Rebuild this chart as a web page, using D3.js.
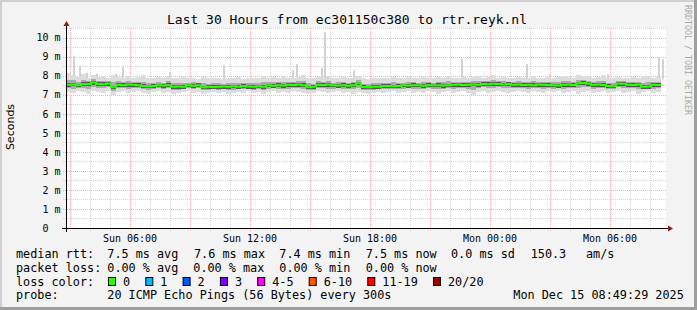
<!DOCTYPE html>
<html>
<head>
<meta charset="utf-8">
<script src="https://cdn.jsdelivr.net/npm/d3@7"></script>
<style>
  body { margin: 0; background: #f3f3f3; }
  svg { display: block; }
  text { font-family: 'DejaVu Sans Mono', monospace; fill: #000; }
</style>
</head>
<body>
<svg id="graph" width="697" height="310"></svg>
<script>

var title = 'Last 30 Hours from ec301150c380 to rtr.reyk.nl';
var endTime = new Date(Date.UTC(2025, 11, 15, 8, 49, 29)),
    spanHours = 30,
    stepMinutes = 15;

// median rtt per 15 min column (ms)
var medianMs = [
  7.52, 7.54, 7.49, 7.56, 7.56, 7.64, 7.56, 7.55, 7.58, 7.39,
  7.52, 7.50, 7.53, 7.52, 7.50, 7.45, 7.44, 7.46, 7.49, 7.48,
  7.50, 7.42, 7.43, 7.41, 7.49, 7.47, 7.50, 7.39, 7.41, 7.40,
  7.42, 7.43, 7.41, 7.44, 7.42, 7.45, 7.43, 7.42, 7.44, 7.41,
  7.49, 7.47, 7.50, 7.48, 7.52, 7.51, 7.53, 7.50, 7.39, 7.41,
  7.52, 7.51, 7.53, 7.49, 7.48, 7.50, 7.47, 7.50, 7.60, 7.40,
  7.39, 7.41, 7.42, 7.45, 7.46, 7.44, 7.46, 7.49, 7.48, 7.50,
  7.49, 7.47, 7.50, 7.49, 7.50, 7.48, 7.49, 7.52, 7.53, 7.51,
  7.52, 7.54, 7.52, 7.56, 7.55, 7.57, 7.56, 7.54, 7.56, 7.52,
  7.53, 7.51, 7.52, 7.50, 7.53, 7.52, 7.51, 7.49, 7.48, 7.52,
  7.53, 7.51, 7.60, 7.61, 7.59, 7.52, 7.53, 7.51, 7.45, 7.44,
  7.58, 7.57, 7.52, 7.51, 7.53, 7.42, 7.43, 7.52, 7.51
];

// fastest / slowest ping of each column (ms)
var smokeLoMs = [
  7.15, 7.10, 7.20, 7.15, 7.05, 7.20, 7.15, 7.10, 7.20, 7.00,
  7.15, 7.20, 7.10, 7.15, 7.20, 7.10, 7.05, 7.15, 7.20, 7.10,
  7.15, 7.05, 7.10, 7.15, 7.20, 7.10, 7.15, 7.05, 7.10, 7.15,
  7.10, 7.15, 7.05, 7.10, 7.15, 7.10, 7.20, 7.10, 7.15, 7.05,
  7.15, 7.20, 7.10, 7.15, 7.10, 7.20, 7.15, 7.10, 7.05, 7.10,
  7.20, 7.15, 7.10, 7.15, 7.20, 7.10, 7.15, 7.05, 7.15, 7.10,
  7.05, 7.10, 7.15, 7.10, 7.15, 7.20, 7.10, 7.15, 7.20, 7.10,
  7.15, 7.10, 7.20, 7.15, 7.05, 7.15, 7.20, 7.10, 7.15, 7.20,
  7.10, 7.00, 7.15, 7.20, 7.10, 7.15, 7.20, 7.15, 7.10, 7.15,
  7.20, 7.15, 7.10, 7.20, 7.15, 7.10, 7.20, 7.15, 7.20, 7.10,
  7.15, 7.20, 7.05, 7.15, 7.20, 7.10, 7.15, 7.20, 7.10, 7.15,
  7.20, 7.10, 7.15, 7.20, 7.05, 7.15, 7.20, 7.10, 7.15
];

var smokeHiMs = [
  8.15, 8.05, 7.95, 8.10, 7.90, 8.05, 7.95, 8.00, 7.90, 8.05,
  7.95, 7.85, 8.00, 7.90, 7.95, 8.05, 7.85, 7.90, 7.95, 7.85,
  8.00, 7.90, 7.85, 7.95, 7.85, 7.90, 7.80, 7.95, 7.85, 7.90,
  7.85, 7.80, 7.90, 7.85, 7.95, 7.80, 7.85, 7.90, 7.85, 8.00,
  7.90, 7.95, 7.85, 8.00, 7.90, 7.85, 7.95, 8.05, 7.90, 7.85,
  7.95, 7.90, 8.00, 7.85, 7.90, 7.95, 7.85, 7.90, 8.00, 7.85,
  7.80, 7.90, 7.85, 7.90, 7.85, 7.95, 7.90, 7.85, 7.95, 7.90,
  7.85, 7.95, 7.90, 7.85, 7.95, 7.90, 8.00, 7.90, 7.85, 7.95,
  7.90, 7.95, 8.00, 7.90, 7.95, 8.05, 7.90, 7.95, 7.85, 7.90,
  7.95, 7.85, 7.90, 8.00, 7.90, 7.85, 7.95, 7.90, 7.95, 8.00,
  7.95, 7.90, 8.05, 8.00, 7.95, 7.90, 7.95, 8.05, 7.90, 7.85,
  7.95, 7.90, 7.85, 7.95, 7.90, 7.95, 8.00, 7.90, 7.95
];

// single slow pings sticking out of the smoke
var spikeHours = [0.35, 0.65, 1.0, 1.5, 2.45, 2.8, 5.15, 7.85, 11.3, 11.5, 12.75, 12.9, 14.35, 19.75, 23.0, 24.15, 27.05, 29.6, 29.8];
var spikeMs    = [9.05, 8.5, 8.15, 8.1, 8.1, 8.45, 8.2, 8.55, 8.3, 8.6, 8.4, 10.28, 8.28, 8.9, 8.6, 8.1, 8.07, 8.98, 8.86];

var yTicks = [0, 1, 2, 3, 4, 5, 6, 7, 8, 9, 10];

var rttStats = ['7.5 ms avg', '7.6 ms max', '7.4 ms min', '7.5 ms now', '0.0 ms sd', '150.3', 'am/s'];
var lossStats = ['0.00 % avg', '0.00 % max', '0.00 % min', '0.00 % now'];
var lossLabels = ['0', '1', '2', '3', '4-5', '6-10', '11-19', '20/20'];
var lossColors = ['#26ff00', '#00b8ff', '#0059ff', '#7e00ff', '#ff00ff', '#ff5500', '#ff0000', '#a00000'];
var probeText = '20 ICMP Echo Pings (56 Bytes) every 300s';
var stampText = 'Mon Dec 15 08:49:29 2025';

var svg = d3.select('#graph'),
    W = 697, H = 310,
    X0 = 66, X1 = 666, Y0 = 228, Y1 = 28,
    startTime = new Date(endTime.getTime() - spanHours * 3600000),
    x = d3.scaleUtc().domain([startTime, endTime]).range([X0, X1]),
    y = d3.scaleLinear().domain([0, 10.5]).range([Y0, Y1]),
    fmt = d3.utcFormat('%a %H:%M'),
    px = function(v) { return Math.round(v) + 0.5; }
    ;

// canvas + 3d frame
svg.append('rect').attr('width', W).attr('height', H).attr('fill', '#f3f3f3');
svg.append('rect').attr('width', W).attr('height', 2).attr('fill', '#cfcfcf');
svg.append('rect').attr('width', 2).attr('height', H).attr('fill', '#cfcfcf');
svg.append('rect').attr('y', H - 3).attr('width', W).attr('height', 3).attr('fill', '#9e9e9e');
svg.append('rect').attr('x', W - 3).attr('width', 3).attr('height', H).attr('fill', '#9e9e9e');

svg.append('rect')
    .attr('x', X0).attr('y', Y1)
    .attr('width', X1 - X0).attr('height', Y0 - Y1)
    .attr('fill', '#fff')
  ;

// grid
var grid = svg.append('g').attr('stroke-dasharray', '1,1').attr('stroke-width', 1);
var hoursAll = d3.utcHour.every(1).range(startTime, endTime);

hoursAll.forEach(function(t) {
  var major = t.getUTCHours() % 3 === 0;
  grid.append('line')
      .attr('x1', px(x(t))).attr('x2', px(x(t)))
      .attr('y1', Y1).attr('y2', Y0 + 3)
      .attr('stroke', major ? '#f6b4b4' : '#d4d4d4')
    ;
});

d3.range(0.5, 10.6, 0.5).forEach(function(v) {
  var major = v % 1 === 0;
  grid.append('line')
      .attr('x1', X0 - 3).attr('x2', X1)
      .attr('y1', px(y(v))).attr('y2', px(y(v)))
      .attr('stroke', major ? '#f6b4b4' : '#d4d4d4')
    ;
});

// smoke
var colMs = stepMinutes * 60000;
var cols = medianMs.map(function(m, i) {
  var t0 = new Date(startTime.getTime() + i * colMs);
  return { t0: t0, t1: new Date(t0.getTime() + colMs), med: m, lo: smokeLoMs[i], hi: smokeHiMs[i] };
});

var smoke = svg.append('g');

spikeHours.forEach(function(h, i) {
  var t = new Date(startTime.getTime() + h * 3600000);
  smoke.append('rect')
      .attr('x', Math.round(x(t)))
      .attr('width', 2)
      .attr('y', y(spikeMs[i]))
      .attr('height', y(7.8) - y(spikeMs[i]))
      .attr('fill', '#d2d2d2')
    ;
});

function band(cls, lo, hi, color) {
  smoke.selectAll('rect.' + cls)
      .data(cols)
    .enter().append('rect')
      .attr('class', cls)
      .attr('x', function(d) { return x(d.t0); })
      .attr('width', function(d) { return x(d.t1) - x(d.t0); })
      .attr('y', function(d) { return y(hi(d)); })
      .attr('height', function(d) { return y(lo(d)) - y(hi(d)); })
      .attr('fill', color)
      .attr('shape-rendering', 'crispEdges')
    ;
}

band('outer', function(d) { return d.lo; }, function(d) { return d.hi; }, '#dcdcdc');
band('mid', function(d) { return d.lo + (d.med - d.lo) * 0.5; }, function(d) { return d.med + (d.hi - d.med) * 0.4; }, '#a9a9a9');
band('inner', function(d) { return d.med - 0.11; }, function(d) { return d.med + 0.09; }, '#555');

var medLine = d3.line()
    .x(function(d) { return x(d.t); })
    .y(function(d) { return y(d.v); })
    .curve(d3.curveStepAfter)
  ;

var medPts = cols.map(function(d) { return { t: d.t0, v: d.med }; });
medPts.push({ t: cols[cols.length - 1].t1, v: cols[cols.length - 1].med });

svg.append('path')
    .attr('d', medLine(medPts))
    .attr('fill', 'none')
    .attr('stroke', lossColors[0])
    .attr('stroke-width', 2)
  ;

// axes
var axis = svg.append('g').attr('stroke', '#000').attr('stroke-width', 1);
axis.append('line').attr('x1', X0 - 4).attr('x2', X1 + 3).attr('y1', Y0 + 0.5).attr('y2', Y0 + 0.5);
axis.append('line').attr('x1', X0 + 0.5).attr('x2', X0 + 0.5).attr('y1', Y0 + 4).attr('y2', Y1 - 3);

svg.append('path')
    .attr('d', 'M' + (X1 + 2) + ',' + (Y0 - 2.5) + 'L' + (X1 + 7) + ',' + (Y0 + 0.5) + 'L' + (X1 + 2) + ',' + (Y0 + 3.5) + 'Z')
    .attr('fill', '#8b1a1a')
  ;
svg.append('path')
    .attr('d', 'M' + (X0 - 2.5) + ',' + (Y1 - 2) + 'L' + (X0 + 0.5) + ',' + (Y1 - 7) + 'L' + (X0 + 3.5) + ',' + (Y1 - 2) + 'Z')
    .attr('fill', '#8b1a1a')
  ;

// tick labels
svg.selectAll('text.ylab')
    .data(yTicks)
  .enter().append('text')
    .attr('class', 'ylab')
    .attr('x', function(d) { return d === 0 ? 48.5 : 60.5; })
    .attr('y', function(d) { return y(d) + 3.8; })
    .attr('text-anchor', 'end')
    .attr('font-size', 10)
    .text(function(d) { return d === 0 ? '0' : d + ' m'; })
  ;

svg.selectAll('text.xlab')
    .data(hoursAll.filter(function(t) { return t.getUTCHours() % 6 === 0; }))
  .enter().append('text')
    .attr('class', 'xlab')
    .attr('x', function(d) { return x(d) + 0.5; })
    .attr('y', 242)
    .attr('text-anchor', 'middle')
    .attr('font-size', 10)
    .text(function(d) { return fmt(d); })
  ;

svg.append('text')
    .attr('x', 347).attr('y', 23.5)
    .attr('text-anchor', 'middle')
    .attr('font-size', 13)
    .text(title)
  ;

svg.append('text')
    .attr('transform', 'translate(14,127) rotate(-90)')
    .attr('text-anchor', 'middle')
    .attr('font-size', 11)
    .style('font-family', "'DejaVu Sans', sans-serif")
    .text('Seconds')
  ;

svg.append('text')
    .attr('transform', 'translate(684.5,5) rotate(90)')
    .attr('font-size', 8.3)
    .style('fill', '#aaaaaa')
    .text('RRDTOOL / TOBI OETIKER')
  ;

// legend
var lg = svg.append('g').attr('font-size', 11.8).attr('xml:space', 'preserve'),
    rows = [258.3, 272, 285.7, 299.4],
    cw = 7.1;

function put(str, xx, yy) {
  lg.append('text').attr('x', xx).attr('y', yy).text(str);
}

put('median rtt:', 16, rows[0]);
[107.3, 194, 279.3, 365.7, 451, 530.7, 586].forEach(function(xx, i) { put(rttStats[i], xx, rows[0]); });

put('packet loss:', 16, rows[1]);
[107.3, 193.3, 279.3, 365.7].forEach(function(xx, i) { put(lossStats[i], xx, rows[1]); });

put('loss color:', 16, rows[2]);
var cursor = 108;
lossLabels.forEach(function(lab, i) {
  lg.append('rect')
      .attr('x', cursor + 0.5).attr('y', rows[2] - 8.2)
      .attr('width', 7).attr('height', 8)
      .attr('fill', lossColors[i])
      .attr('stroke', '#000')
    ;
  put(lab, cursor + 15, rows[2]);
  cursor = cursor + 15 + lab.length * cw + 15.2;
});

put('probe:', 16, rows[3]);
put(probeText, 107.3, rows[3]);
put(stampText, 513.3, rows[3]);

</script>
</body>
</html>
